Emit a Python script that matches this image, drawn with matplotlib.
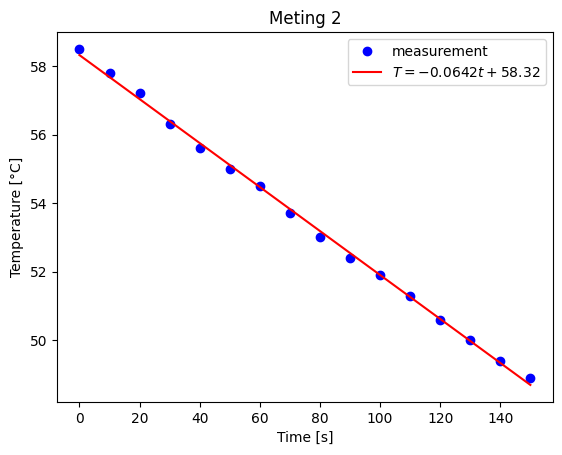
import numpy as np
import matplotlib.pyplot as plt

# measured data (Meting 2)
time_s = [0, 10, 20, 30, 40, 50, 60, 70, 80, 90, 100, 110, 120, 130, 140, 150]
temp_c = [58.5, 57.8, 57.2, 56.3, 55.6, 55.0, 54.5, 53.7, 53.0, 52.4,
          51.9, 51.3, 50.6, 50.0, 49.4, 48.9]

# linear fit coefficients as shown in the legend
slope = -0.0642
intercept = 58.32

t = np.array(time_s)
fit = slope * t + intercept

fig, ax = plt.subplots(figsize=(6.4, 4.8), dpi=100)
ax.plot(time_s, temp_c, "o", color="blue", label="measurement")
ax.plot(t, fit, "-", color="red",
        label=r"$T = %.4ft + %.2f$" % (slope, intercept))

ax.set_xlabel("Time [s]")
ax.set_ylabel("Temperature [°C]")
ax.set_title("Meting 2")
ax.legend()

fig.savefig("out.png", dpi=100, bbox_inches="tight")
